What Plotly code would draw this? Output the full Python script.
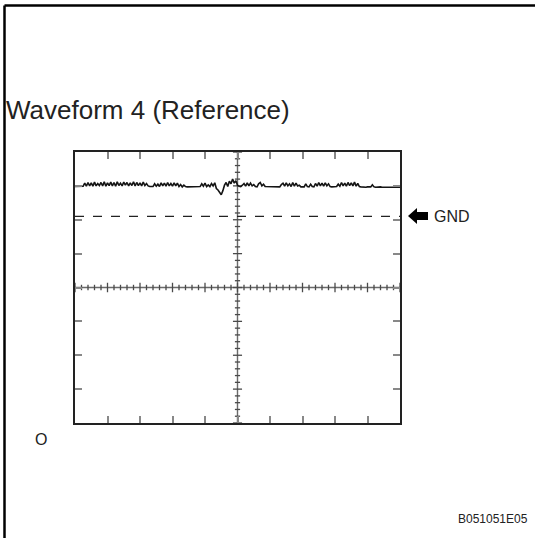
import numpy as np
import plotly.graph_objects as go

# Oscilloscope screen: 10 horizontal divisions, 8 vertical divisions
x_divs = [0, 10]
y_divs = [-4, 4]
gnd_level = 2.1

# waveform samples, one every 0.05 division
sample_step = 0.05
wave = [
    2.98, 2.98, 2.98, 2.99, 2.98, 2.99, 3.08, 2.99, 3.10, 3.00, 3.09, 2.99, 3.11, 3.00, 3.07, 3.01, 3.10, 3.00, 3.12, 2.99,
    3.09, 3.01, 3.11, 3.00, 3.10, 2.99, 3.12, 3.01, 3.08, 3.00, 3.11, 3.02, 3.10, 3.00, 3.09, 3.01, 3.12, 3.00, 3.10, 3.01,
    3.09, 3.00, 3.11, 3.01, 3.07, 3.00, 2.98, 2.97, 2.98, 3.06, 2.99, 3.05, 2.98, 3.09, 3.00, 3.08, 2.99, 3.10, 3.00, 3.07,
    2.99, 3.09, 3.00, 3.08, 2.98, 3.04, 2.97, 3.02, 2.98, 2.97, 2.97, 2.98, 2.97, 2.98, 2.97, 2.98, 2.97, 2.98, 3.06, 2.99,
    3.08, 2.98, 3.03, 2.98, 3.07, 3.00, 3.09, 2.92, 2.88, 2.80, 2.74, 2.86, 3.02, 3.10, 2.98, 3.14, 3.06, 3.20, 3.08, 3.15,
    3.02, 2.99, 2.98, 3.02, 3.07, 2.99, 3.09, 3.00, 3.08, 3.00, 3.04, 2.98, 2.97, 3.06, 3.10, 3.00, 3.05, 2.98, 2.98, 2.97,
    2.97, 2.98, 2.97, 2.98, 2.97, 2.98, 2.97, 3.04, 3.08, 2.99, 3.09, 3.00, 3.06, 2.98, 3.10, 2.99, 3.08, 3.00, 3.02, 2.97,
    2.98, 2.97, 3.06, 2.98, 2.97, 3.05, 2.98, 2.97, 3.07, 2.99, 3.10, 3.00, 3.08, 2.99, 3.09, 3.00, 3.06, 2.98, 2.97, 2.98,
    2.97, 2.98, 3.05, 2.99, 3.10, 3.00, 3.08, 2.99, 3.10, 3.01, 3.09, 3.00, 3.11, 2.99, 3.07, 2.98, 2.97, 2.96, 2.97, 2.96,
    2.97, 2.96, 2.97, 3.03, 2.97, 2.96, 2.97, 2.96, 2.97, 2.96, 2.96, 2.95, 2.96, 2.95, 2.96, 2.95, 2.96, 2.96, 2.95, 2.96,
    2.96,
]
t = np.arange(len(wave)) * sample_step

title_text = "Waveform 4 (Reference)"
gnd_text = "GND"
origin_text = "O"
code_text = "B051051E05"

W, H = 535, 538
L, R, T, B = 75, 400, 152, 423   # plot box in pixels


def px(xp):
    return (xp - L) / (R - L)


def py(yp):
    return (B - yp) / (B - T)


def cross_ticks(minor_len_x, major_len_x, minor_len_y, major_len_y):
    # small graticule ticks along the centre cross, 5 per division
    hx, hy = [], []
    for v in np.arange(x_divs[0], x_divs[1] + 1e-9, 0.2):
        h = major_len_y if abs(v - round(v)) < 1e-6 else minor_len_y
        hx += [v, v, None]
        hy += [-h, h, None]
    vx, vy = [], []
    cx = (x_divs[0] + x_divs[1]) / 2
    for v in np.arange(y_divs[0], y_divs[1] + 1e-9, 0.2):
        h = major_len_x if abs(v - round(v)) < 1e-6 else minor_len_x
        vx += [cx - h, cx + h, None]
        vy += [v, v, None]
    return hx + vx, hy + vy


tx, ty = cross_ticks(0.08, 0.14, 0.08, 0.14)
cx = (x_divs[0] + x_divs[1]) / 2

fig = go.Figure()

# centre cross
fig.add_trace(go.Scatter(x=[x_divs[0], x_divs[1], None, cx, cx], y=[0, 0, None, y_divs[0], y_divs[1]],
                         mode="lines", line=dict(color="#6a6a6a", width=1.4), hoverinfo="skip"))
fig.add_trace(go.Scatter(x=tx, y=ty, mode="lines", line=dict(color="#4a4a4a", width=1.3), hoverinfo="skip"))

# GND reference line
fig.add_trace(go.Scatter(x=x_divs, y=[gnd_level, gnd_level], mode="lines",
                         line=dict(color="#222", width=1.2, dash="dash"), hoverinfo="skip"))

# waveform
fig.add_trace(go.Scatter(x=t, y=wave, mode="lines", line=dict(color="#151515", width=1.6), hoverinfo="skip"))

axis_common = dict(showgrid=False, zeroline=False, showticklabels=False, ticks="inside",
                   ticklen=7, tickwidth=1.5, tickcolor="#888", showline=True, linecolor="#222",
                   linewidth=1.5, mirror="ticks", dtick=1, fixedrange=True)

fig.update_layout(
    width=W, height=H,
    margin=dict(l=L, r=W - R, t=T, b=H - B),
    paper_bgcolor="white", plot_bgcolor="white",
    showlegend=False,
    font=dict(family="Liberation Sans, Arial, sans-serif", color="#222"),
    xaxis=dict(range=x_divs, tick0=0, **axis_common),
    yaxis=dict(range=y_divs, tick0=-4, **axis_common),
)

# outer frame (open on the right and bottom)
fig.add_shape(type="line", xref="paper", yref="paper", x0=px(4.5), x1=px(W + 5), y0=py(5.5), y1=py(5.5),
              line=dict(color="black", width=2.5))
fig.add_shape(type="line", xref="paper", yref="paper", x0=px(4.5), x1=px(4.5), y0=py(5.5), y1=py(H + 5),
              line=dict(color="black", width=2.5))

# block arrow pointing at GND
ax0, ax1, ay = 408, 428, 216
path = (f"M {px(ax0)},{py(ay)} L {px(ax0 + 9)},{py(ay - 8)} L {px(ax0 + 9)},{py(ay - 4)} "
        f"L {px(ax1)},{py(ay - 4)} L {px(ax1)},{py(ay + 4)} L {px(ax0 + 9)},{py(ay + 4)} "
        f"L {px(ax0 + 9)},{py(ay + 8)} Z")
fig.add_shape(type="path", xref="paper", yref="paper", path=path, fillcolor="black",
              line=dict(color="black", width=0))

fig.add_annotation(text=title_text, xref="paper", yref="paper", x=px(4), y=py(110),
                   xanchor="left", yanchor="middle", showarrow=False, font=dict(size=26))
fig.add_annotation(text=gnd_text, xref="paper", yref="paper", x=px(432), y=py(216),
                   xanchor="left", yanchor="middle", showarrow=False, font=dict(size=16))
fig.add_annotation(text=origin_text, xref="paper", yref="paper", x=px(41), y=py(439),
                   xanchor="center", yanchor="middle", showarrow=False, font=dict(size=16))
fig.add_annotation(text=code_text, xref="paper", yref="paper", x=px(530), y=py(519),
                   xanchor="right", yanchor="middle", showarrow=False, font=dict(size=12))

fig.write_html("out.html", config={"displayModeBar": False},
               post_script="document.body.style.margin='0';")
